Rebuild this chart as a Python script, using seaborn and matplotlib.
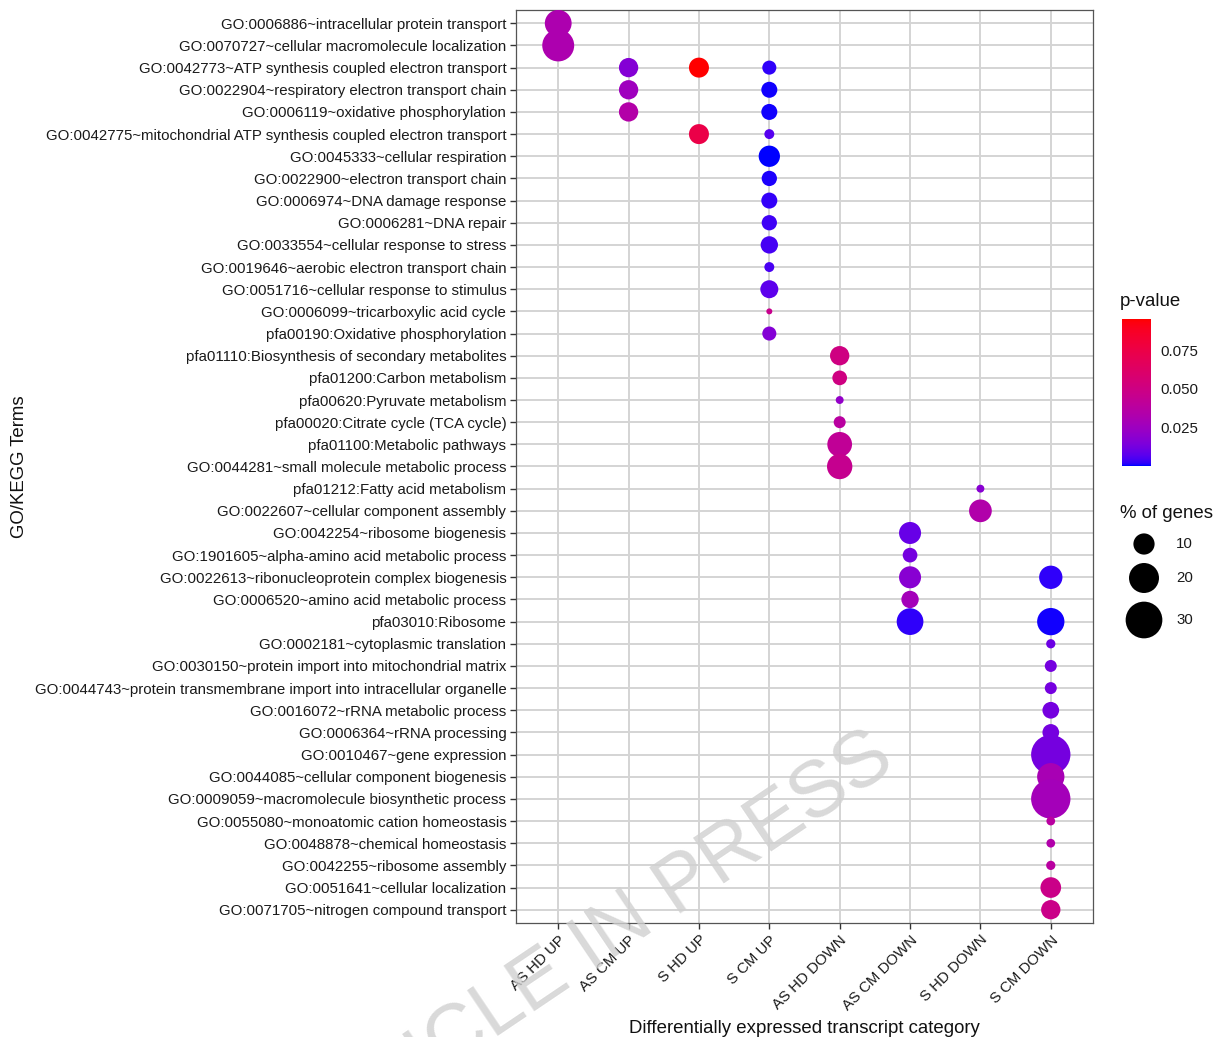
import numpy as np
import pandas as pd
import matplotlib
matplotlib.use("Agg")
import matplotlib.pyplot as plt
import seaborn as sns
from matplotlib.colors import ListedColormap, Normalize
from matplotlib.cm import ScalarMappable

# ---------------------------------------------------------------- data
terms = [
    "GO:0006886~intracellular protein transport",
    "GO:0070727~cellular macromolecule localization",
    "GO:0042773~ATP synthesis coupled electron transport",
    "GO:0022904~respiratory electron transport chain",
    "GO:0006119~oxidative phosphorylation",
    "GO:0042775~mitochondrial ATP synthesis coupled electron transport",
    "GO:0045333~cellular respiration",
    "GO:0022900~electron transport chain",
    "GO:0006974~DNA damage response",
    "GO:0006281~DNA repair",
    "GO:0033554~cellular response to stress",
    "GO:0019646~aerobic electron transport chain",
    "GO:0051716~cellular response to stimulus",
    "GO:0006099~tricarboxylic acid cycle",
    "pfa00190:Oxidative phosphorylation",
    "pfa01110:Biosynthesis of secondary metabolites",
    "pfa01200:Carbon metabolism",
    "pfa00620:Pyruvate metabolism",
    "pfa00020:Citrate cycle (TCA cycle)",
    "pfa01100:Metabolic pathways",
    "GO:0044281~small molecule metabolic process",
    "pfa01212:Fatty acid metabolism",
    "GO:0022607~cellular component assembly",
    "GO:0042254~ribosome biogenesis",
    "GO:1901605~alpha-amino acid metabolic process",
    "GO:0022613~ribonucleoprotein complex biogenesis",
    "GO:0006520~amino acid metabolic process",
    "pfa03010:Ribosome",
    "GO:0002181~cytoplasmic translation",
    "GO:0030150~protein import into mitochondrial matrix",
    "GO:0044743~protein transmembrane import into intracellular organelle",
    "GO:0016072~rRNA metabolic process",
    "GO:0006364~rRNA processing",
    "GO:0010467~gene expression",
    "GO:0044085~cellular component biogenesis",
    "GO:0009059~macromolecule biosynthetic process",
    "GO:0055080~monoatomic cation homeostasis",
    "GO:0048878~chemical homeostasis",
    "GO:0042255~ribosome assembly",
    "GO:0051641~cellular localization",
    "GO:0071705~nitrogen compound transport",
]

categories = ["AS HD UP", "AS CM UP", "S HD UP", "S CM UP",
              "AS HD DOWN", "AS CM DOWN", "S HD DOWN", "S CM DOWN"]

# enriched terms per category (term number as listed above, 1-based),
# percentage of genes and p-value
as_hd_up_terms = [1, 2]
as_hd_up_pct = [16.0, 22.7]
as_hd_up_p = [0.032, 0.032]

as_cm_up_terms = [3, 4, 5]
as_cm_up_pct = [8.3, 8.3, 8.3]
as_cm_up_p = [0.017, 0.026, 0.035]

s_hd_up_terms = [3, 6]
s_hd_up_pct = [8.9, 8.9]
s_hd_up_p = [0.095, 0.074]

s_cm_up_terms = [3, 4, 5, 6, 7, 8, 9, 10, 11, 12, 13, 14, 15]
s_cm_up_pct = [4.4, 5.7, 5.7, 2.2, 10.1, 5.2, 5.7, 5.2, 6.7, 2.2, 7.2, 0.8, 4.4]
s_cm_up_p = [0.0025, 0.0010, 0.0010, 0.007, 0.0005, 0.0015, 0.003, 0.004,
             0.0048, 0.005, 0.008, 0.046, 0.017]

as_hd_down_terms = [16, 17, 18, 19, 20, 21]
as_hd_down_pct = [8.3, 4.8, 1.4, 3.2, 13.6, 14.3]
as_hd_down_p = [0.051, 0.051, 0.022, 0.038, 0.042, 0.045]

s_hd_down_terms = [22, 23]
s_hd_down_pct = [1.4, 11.5]
s_hd_down_p = [0.018, 0.034]

as_cm_down_terms = [24, 25, 26, 27, 28]
as_cm_down_pct = [10.8, 4.8, 10.8, 6.7, 15.9]
as_cm_down_p = [0.010, 0.013, 0.018, 0.028, 0.0025]

s_cm_down_terms = [26, 28, 29, 30, 31, 32, 33, 34, 35, 36, 37, 38, 39, 40, 41]
s_cm_down_pct = [12.1, 16.6, 1.9, 3.2, 3.2, 6.2, 6.2, 34.4, 16.6, 34.4,
                 1.7, 1.7, 1.9, 9.5, 8.3]
s_cm_down_p = [0.0025, 0.001, 0.011, 0.013, 0.013, 0.013, 0.013, 0.013,
               0.030, 0.028, 0.038, 0.034, 0.038, 0.048, 0.048]

size_breaks = [10, 20, 30]
pvalue_breaks = [0.025, 0.050, 0.075]

# ---------------------------------------------------------------- frame
groups = [
    ("AS HD UP", as_hd_up_terms, as_hd_up_pct, as_hd_up_p),
    ("AS CM UP", as_cm_up_terms, as_cm_up_pct, as_cm_up_p),
    ("S HD UP", s_hd_up_terms, s_hd_up_pct, s_hd_up_p),
    ("S CM UP", s_cm_up_terms, s_cm_up_pct, s_cm_up_p),
    ("AS HD DOWN", as_hd_down_terms, as_hd_down_pct, as_hd_down_p),
    ("AS CM DOWN", as_cm_down_terms, as_cm_down_pct, as_cm_down_p),
    ("S HD DOWN", s_hd_down_terms, s_hd_down_pct, s_hd_down_p),
    ("S CM DOWN", s_cm_down_terms, s_cm_down_pct, s_cm_down_p),
]
rows = []
for cat, tnums, pcts, ps in groups:
    for t, pc, pv in zip(tnums, pcts, ps):
        rows.append({"category": cat, "term": terms[t - 1], "pct": pc, "pvalue": pv})
df = pd.DataFrame(rows)
df["x"] = pd.Categorical(df["category"], categories=categories).codes
df["y"] = pd.Categorical(df["term"], categories=terms).codes


# ------------------------------------------------ blue -> red gradient in Lab
def _srgb_to_lab(rgb):
    rgb = np.asarray(rgb, float)
    lin = np.where(rgb <= 0.04045, rgb / 12.92, ((rgb + 0.055) / 1.055) ** 2.4)
    m = np.array([[0.4124, 0.3576, 0.1805],
                  [0.2126, 0.7152, 0.0722],
                  [0.0193, 0.1192, 0.9505]])
    xyz = lin @ m.T / np.array([0.95047, 1.0, 1.08883])
    f = np.where(xyz > 0.008856, np.cbrt(xyz), 7.787 * xyz + 16 / 116)
    return np.stack([116 * f[..., 1] - 16,
                     500 * (f[..., 0] - f[..., 1]),
                     200 * (f[..., 1] - f[..., 2])], axis=-1)


def _lab_to_srgb(lab):
    L, a, b = lab[..., 0], lab[..., 1], lab[..., 2]
    fy = (L + 16) / 116
    fx = fy + a / 500
    fz = fy - b / 200
    f = np.stack([fx, fy, fz], axis=-1)
    xyz = np.where(f ** 3 > 0.008856, f ** 3, (f - 16 / 116) / 7.787)
    xyz = xyz * np.array([0.95047, 1.0, 1.08883])
    m = np.array([[3.2406, -1.5372, -0.4986],
                  [-0.9689, 1.8758, 0.0415],
                  [0.0557, -0.2040, 1.0570]])
    lin = np.clip(xyz @ m.T, 0, 1)
    rgb = np.where(lin <= 0.0031308, 12.92 * lin, 1.055 * lin ** (1 / 2.4) - 0.055)
    return np.clip(rgb, 0, 1)


lab_lo = _srgb_to_lab([0.0, 0.0, 1.0])
lab_hi = _srgb_to_lab([1.0, 0.0, 0.0])
tt = np.linspace(0, 1, 256)[:, None]
cmap = ListedColormap(_lab_to_srgb(lab_lo + (lab_hi - lab_lo) * tt))
norm = Normalize(vmin=df["pvalue"].min(), vmax=df["pvalue"].max())

# ---------------------------------------------------------------- figure
sns.set_theme(style="white")
plt.rcParams["font.family"] = ["Liberation Sans", "DejaVu Sans"]

TICK_FS = 10.8
TITLE_FS = 13.4
TXT = "#1a1a1a"

W, H = 1223, 1037
fig = plt.figure(figsize=(W / 100, H / 100), dpi=100)
ax = fig.add_axes([516 / W, 1 - 923 / H, (1093 - 516) / W, (923 - 10) / H])

SIZE_K = 23.3  # point area (pt^2) per percent of genes
SIZE_MAX = 40
sns.scatterplot(data=df, x="x", y="y", hue="pvalue", size="pct",
                palette=cmap, hue_norm=norm,
                sizes=(0, SIZE_K * SIZE_MAX), size_norm=(0, SIZE_MAX),
                linewidth=0, legend=False, ax=ax, zorder=3)

ax.set_xlim(-0.6, len(categories) - 0.4)
ax.set_ylim(len(terms) - 0.4, -0.6)
ax.set_xticks(range(len(categories)))
ax.set_xticklabels(categories, rotation=45, ha="right", va="top",
                   rotation_mode="anchor", fontsize=TICK_FS, color=TXT)
ax.set_yticks(range(len(terms)))
ax.set_yticklabels(terms, fontsize=TICK_FS, color=TXT)
ax.tick_params(axis="both", length=4, width=1, color="#333333", pad=3,
               bottom=True, left=True)
ax.grid(True, color="#d4d4d4", linewidth=1.4, zorder=0)
ax.set_axisbelow(True)
for sp in ax.spines.values():
    sp.set_color("#555555")
    sp.set_linewidth(0.9)
ax.set_xlabel("Differentially expressed transcript category", fontsize=TITLE_FS,
              color="#111111", labelpad=5)
ax.set_ylabel("")
fig.text(20 / W, 1 - 467 / H, "GO/KEGG Terms", rotation=90, ha="center",
         va="center", fontsize=TITLE_FS, color="#111111")

# colour bar for p-value
cax = fig.add_axes([1122 / W, 1 - 466 / H, 29 / W, (466 - 319) / H])
cb = fig.colorbar(ScalarMappable(norm=norm, cmap=cmap), cax=cax,
                  ticks=pvalue_breaks)
cb.outline.set_visible(False)
cb.ax.set_yticklabels([f"{v:.3f}" for v in pvalue_breaks], fontsize=TICK_FS,
                      color=TXT)
cb.ax.tick_params(which="both", direction="in", length=5, width=0.8,
                  color="white", left=True, right=True, pad=7)
fig.text(1120 / W, 1 - 301 / H, "p-value", ha="left", va="center",
         fontsize=TITLE_FS, color="#111111")

# overlay in pixel coordinates for the size legend and the watermark
ov = fig.add_axes([0, 0, 1, 1], facecolor="none")
ov.set_xlim(0, W)
ov.set_ylim(H, 0)
ov.axis("off")
ov.text(1120, 513, "% of genes", ha="left", va="center", fontsize=TITLE_FS,
        color="#111111")
leg_y = [544, 578, 620]
ov.scatter([1144] * len(size_breaks), leg_y,
           s=[SIZE_K * v for v in size_breaks], color="black", linewidths=0)
for yy, v in zip(leg_y, size_breaks):
    ov.text(1176, yy, str(v), ha="left", va="center", fontsize=TICK_FS,
            color=TXT)

ov.text(897, 766, "ARTICLE IN PRESS", rotation=34, rotation_mode="anchor",
        ha="right", va="baseline", fontsize=57, color="#d0d0d0", alpha=0.8,
        zorder=10)

fig.savefig("out.png", dpi=100)
